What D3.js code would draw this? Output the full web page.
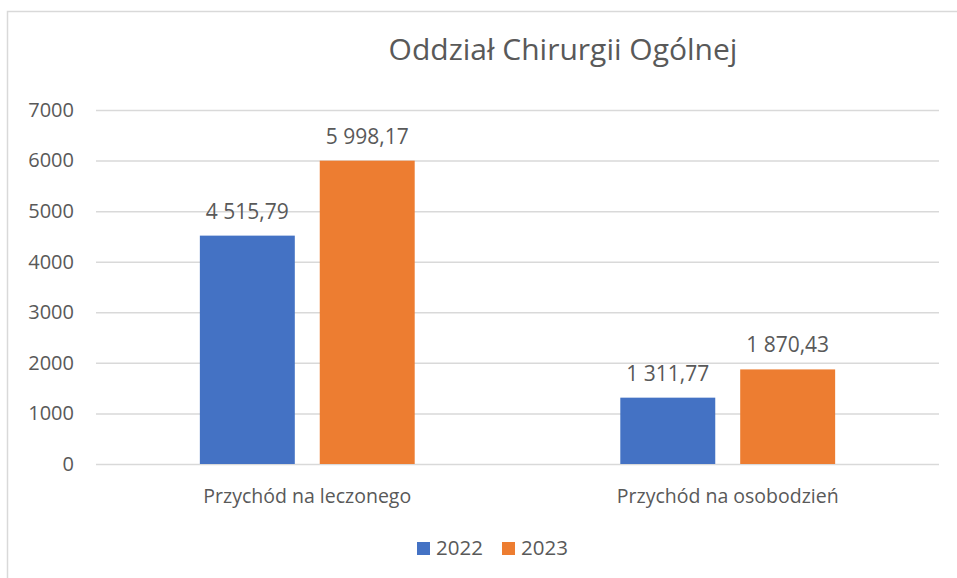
<!DOCTYPE html>
<html>
<head>
<meta charset="utf-8">
<script src="https://cdn.jsdelivr.net/npm/d3@7"></script>
<style>
  body { margin: 0; background: #fff; }
  text { font-family: "Open Sans", sans-serif; fill: #595959; }
</style>
</head>
<body>
<script>
const categories = ["Przychód na leczonego", "Przychód na osobodzień"];
const series = ["2022", "2023"];
const values2022 = [4515.79, 1311.77];
const values2023 = [5998.17, 1870.43];
const yTicks = [0, 1000, 2000, 3000, 4000, 5000, 6000, 7000];
const colors = ["#4472c4", "#ed7d31"];

const width = 957, height = 578;
const plotLeft = 96, plotRight = 939, plotTop = 110, plotBottom = 464;

const pl = d3.formatLocale({decimal: ",", thousands: "\u00a0", grouping: [3], currency: ["", ""]});
const fmt = pl.format(",.2f");

const rows = categories.map(function (c, i) {
    return {cat: c, vals: [values2022[i], values2023[i]]};
});

const svg = d3.select("body").append("svg")
    .attr("width", width)
    .attr("height", height);

// chart frame
svg.append("rect")
    .attr("x", 7.5).attr("y", 11.5)
    .attr("width", 980).attr("height", 600)
    .attr("fill", "none")
    .attr("stroke", "#d9d9d9")
    .attr("stroke-width", 1.5);

let y = d3.scaleLinear().domain([0, 7000]).range([plotBottom, plotTop]);
let x0 = d3.scaleBand().domain(categories).range([plotLeft, plotRight])
    .paddingInner(0.489).paddingOuter(0.247);
let x1 = d3.scaleBand().domain(series).range([0, x0.bandwidth()])
    .paddingInner(0.208).paddingOuter(0);

// gridlines + y labels
let yAxis = d3.axisLeft(y).tickValues(yTicks).tickSize(-(plotRight - plotLeft)).tickPadding(22)
    .tickFormat(d3.format("d"));
let gy = svg.append("g")
    .attr("transform", "translate(" + plotLeft + ",0)")
    .call(yAxis);
gy.select(".domain").remove();
gy.selectAll(".tick line").attr("stroke", "#d9d9d9").attr("stroke-width", 1.5);
gy.selectAll(".tick text")
    .style("font-size", "20px")
    .attr("fill", "#595959");

// bars
let groups = svg.selectAll(".grp")
    .data(rows)
    .enter().append("g")
    .attr("class", "grp")
    .attr("transform", function (d) { return "translate(" + x0(d.cat) + ",0)"; });

groups.selectAll("rect")
    .data(function (d) { return d.vals.map(function (v, i) { return {s: series[i], v: v, i: i}; }); })
    .enter().append("rect")
    .attr("x", function (d) { return x1(d.s); })
    .attr("y", function (d) { return y(d.v); })
    .attr("width", x1.bandwidth())
    .attr("height", function (d) { return y(0) - y(d.v); })
    .attr("fill", function (d) { return colors[d.i]; });

groups.selectAll(".lbl")
    .data(function (d) { return d.vals.map(function (v, i) { return {s: series[i], v: v}; }); })
    .enter().append("text")
    .attr("class", "lbl")
    .attr("x", function (d) { return x1(d.s) + x1.bandwidth() / 2; })
    .attr("y", function (d) { return y(d.v) - 17; })
    .attr("text-anchor", "middle")
    .style("font-size", "21px")
    .text(function (d) { return fmt(d.v); });

// category labels
svg.selectAll(".cat")
    .data(categories)
    .enter().append("text")
    .attr("class", "cat")
    .attr("x", function (d) { return x0(d) + x0.bandwidth() / 2; })
    .attr("y", 503)
    .attr("text-anchor", "middle")
    .style("font-size", "19.5px")
    .text(function (d) { return d; });

// title
svg.append("text")
    .attr("x", 563).attr("y", 60)
    .attr("text-anchor", "middle")
    .style("font-size", "30px")
    .text("Oddział Chirurgii Ogólnej");

// legend
let legend = svg.selectAll(".leg")
    .data(series)
    .enter().append("g")
    .attr("class", "leg")
    .attr("transform", function (d, i) { return "translate(" + (417 + i * 85) + ",542)"; });
legend.append("rect")
    .attr("width", 13).attr("height", 13)
    .attr("fill", function (d, i) { return colors[i]; });
legend.append("text")
    .attr("x", 19).attr("y", 13)
    .style("font-size", "20.5px")
    .text(function (d) { return d; });
</script>
</body>
</html>
